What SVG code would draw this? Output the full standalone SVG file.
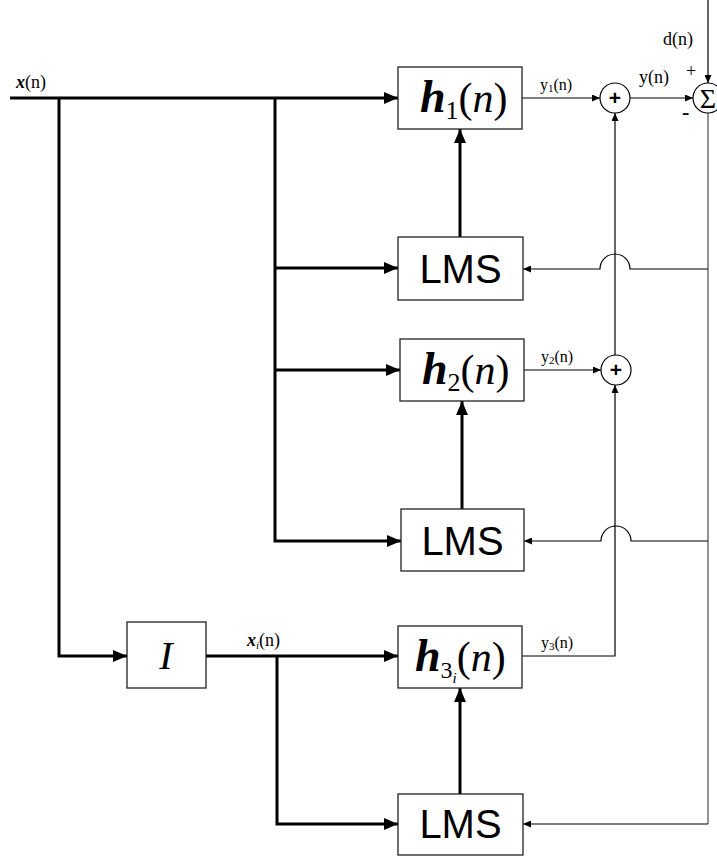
<svg xmlns="http://www.w3.org/2000/svg" width="717" height="856" viewBox="0 0 717 856">
<defs>
<marker id="ab" markerUnits="userSpaceOnUse" markerWidth="14" markerHeight="12" viewBox="0 0 14 12" refX="14" refY="6" orient="auto"><path d="M0,0 L14,6 L0,12 z" fill="#000"/></marker>
<marker id="as" markerUnits="userSpaceOnUse" markerWidth="8" markerHeight="7" viewBox="0 0 8 7" refX="8" refY="3.5" orient="auto"><path d="M0,0 L8,3.5 L0,7 z" fill="#000"/></marker>
</defs>
<style>
.box{fill:#fff;stroke:#222;stroke-width:1.3}
.thick{fill:none;stroke:#000;stroke-width:3}
.thin{fill:none;stroke:#000;stroke-width:1.2}
.gray{fill:none;stroke:#777;stroke-width:1.6}
.circ{fill:#fff;stroke:#000;stroke-width:1.2}
.serif{font-family:"Liberation Serif","Times New Roman",serif;fill:#000}
.lms{font-family:"Liberation Sans",Arial,sans-serif;font-size:40px;fill:#000}
.hh{font-weight:bold;font-style:italic;font-size:46px}
.pn{font-size:42px}
.it{font-style:italic}
.sm{font-size:18px}
.ys{font-size:16px}
</style>
<g id="connectors">
<path class="thick" d="M10,98 H398" marker-end="url(#ab)"/>
<path class="thick" d="M59,98 V656 H127" marker-end="url(#ab)"/>
<path class="thick" d="M275,98 V541 H401" marker-end="url(#ab)"/>
<path class="thick" d="M275,268 H398" marker-end="url(#ab)"/>
<path class="thick" d="M275,370 H400" marker-end="url(#ab)"/>
<path class="thick" d="M206,656 H398" marker-end="url(#ab)"/>
<path class="thick" d="M277,656 V824 H398" marker-end="url(#ab)"/>
<path class="thick" d="M460,237 V129" marker-end="url(#ab)"/>
<path class="thick" d="M462,509 V401" marker-end="url(#ab)"/>
<path class="thick" d="M460,794 V688" marker-end="url(#ab)"/>
<path class="thin" d="M522,98 H600" marker-end="url(#as)"/>
<path class="thin" d="M524,370 H601" marker-end="url(#as)"/>
<path class="thin" d="M522,656 H615 V385" marker-end="url(#as)"/>
<path class="thin" d="M615,355 V113" marker-end="url(#as)"/>
<path class="thin" d="M630,98 H693" marker-end="url(#as)"/>
<path class="thin" d="M708,0 V83" marker-end="url(#as)"/>
<path class="gray" d="M708,113 V824"/>
<path class="thin" d="M708,269 H630 A15,15 0 0 0 600,269 H523" marker-end="url(#as)"/>
<path class="thin" d="M708,541 H631 A15,15 0 0 0 601,541 H524" marker-end="url(#as)"/>
<path class="thin" d="M708,824 H523" marker-end="url(#as)"/>
</g>
<g id="h1">
<rect class="box" x="398" y="67" width="124" height="62"/>
<text class="serif" x="420" y="112"><tspan class="hh">h</tspan><tspan font-size="26" dy="7">1</tspan><tspan class="pn" dy="-7">(</tspan><tspan class="pn it">n</tspan><tspan class="pn">)</tspan></text>
</g>
<g id="lms1">
<rect class="box" x="398" y="237" width="125" height="63"/>
<text class="lms" x="460.5" y="283" text-anchor="middle">LMS</text>
</g>
<g id="h2">
<rect class="box" x="400" y="339" width="124" height="62"/>
<text class="serif" x="422" y="384"><tspan class="hh">h</tspan><tspan font-size="26" dy="7">2</tspan><tspan class="pn" dy="-7">(</tspan><tspan class="pn it">n</tspan><tspan class="pn">)</tspan></text>
</g>
<g id="lms2">
<rect class="box" x="401" y="509" width="123" height="62"/>
<text class="lms" x="462.5" y="555" text-anchor="middle">LMS</text>
</g>
<g id="h3">
<rect class="box" x="398" y="626" width="124" height="62"/>
<text class="serif" x="415" y="671"><tspan class="hh">h</tspan><tspan font-size="24" dy="7">3</tspan><tspan font-size="15" class="it" dy="5">i</tspan><tspan class="pn" dy="-12">(</tspan><tspan class="pn it">n</tspan><tspan class="pn">)</tspan></text>
</g>
<g id="lms3">
<rect class="box" x="398" y="794" width="125" height="61"/>
<text class="lms" x="460.5" y="838" text-anchor="middle">LMS</text>
</g>
<g id="I">
<rect class="box" x="127" y="622" width="79" height="66"/>
<text class="serif it" x="166" y="669" font-size="40" text-anchor="middle">I</text>
</g>
<g id="sum1">
<circle class="circ" cx="615" cy="98" r="15"/>
<text x="615" y="105" font-family="Liberation Sans,Arial,sans-serif" font-size="21" font-weight="bold" text-anchor="middle">+</text>
</g>
<g id="sum2">
<circle class="circ" cx="616" cy="370" r="15"/>
<text x="616" y="377" font-family="Liberation Sans,Arial,sans-serif" font-size="21" font-weight="bold" text-anchor="middle">+</text>
</g>
<g id="sigma">
<circle class="circ" cx="708" cy="98" r="15"/>
<text class="serif" x="708" y="108" font-size="28" text-anchor="middle">Σ</text>
</g>
<g id="labels">
<text class="serif sm" x="16" y="88"><tspan font-weight="bold" font-style="italic">x</tspan>(n)</text>
<text class="serif sm" x="247" y="646"><tspan font-weight="bold" font-style="italic">x</tspan><tspan font-size="11" font-style="italic" dy="3">i</tspan><tspan dy="-3">(n)</tspan></text>
<text class="serif ys" x="540" y="90">y<tspan font-size="11" dy="2">1</tspan><tspan dy="-2">(n)</tspan></text>
<text class="serif ys" x="541" y="362">y<tspan font-size="11" dy="2">2</tspan><tspan dy="-2">(n)</tspan></text>
<text class="serif ys" x="541" y="648">y<tspan font-size="11" dy="2">3</tspan><tspan dy="-2">(n)</tspan></text>
<text class="serif sm" x="639" y="83">y(n)</text>
<text class="serif sm" x="663" y="45">d(n)</text>
<text class="serif" x="686" y="77" font-size="18">+</text>
<text class="serif" x="682" y="119" font-size="22" font-weight="bold">-</text>
</g>
</svg>
